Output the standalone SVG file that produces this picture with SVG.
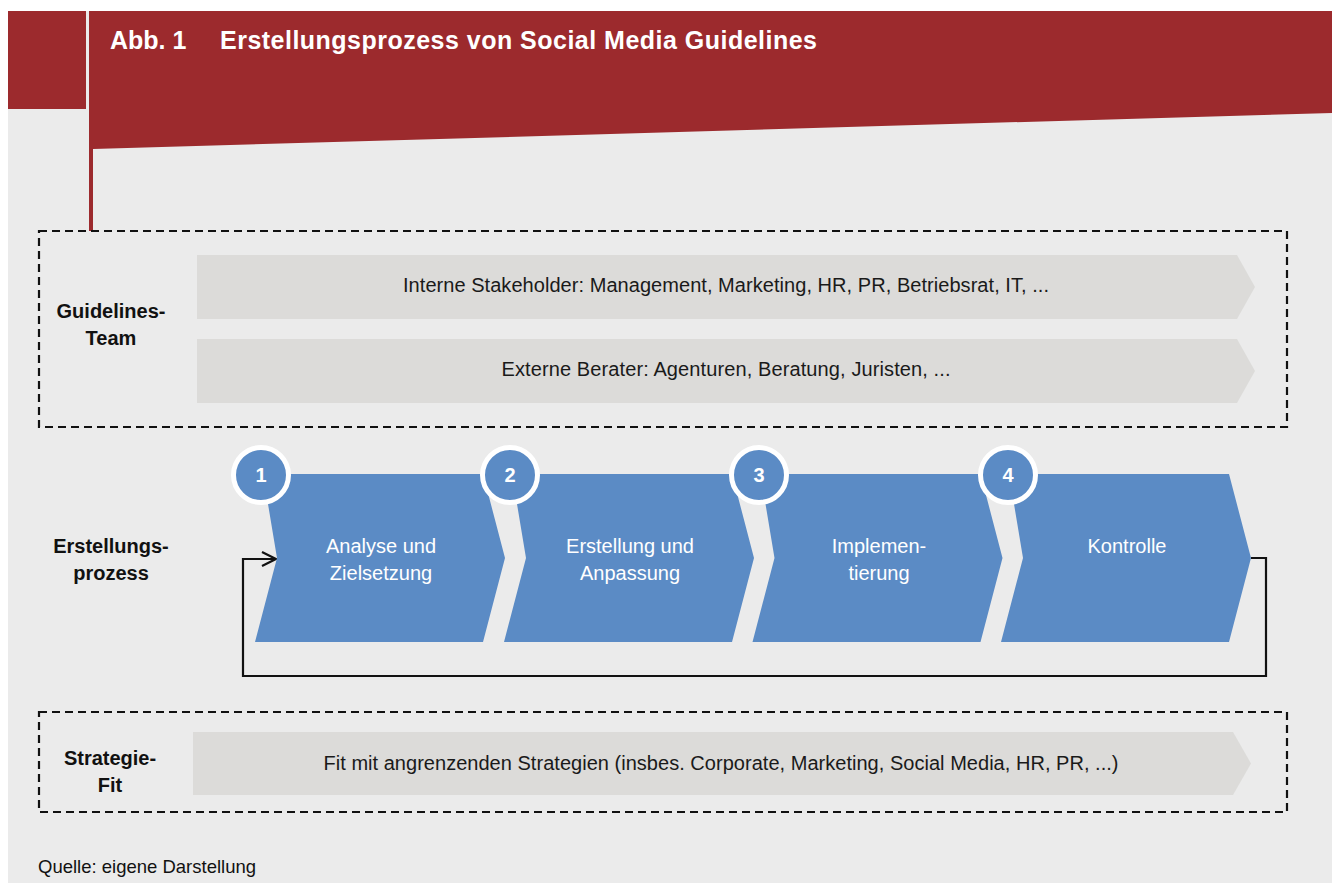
<svg xmlns="http://www.w3.org/2000/svg" width="1332" height="885" viewBox="0 0 1332 885">
  <defs>
    <style>
      .page { fill: #ffffff; }
      .bg { fill: #ebebeb; }
      .red { fill: #9c2a2d; }
      .frame { fill: none; stroke: #111111; stroke-width: 2.2; stroke-dasharray: 8 5; }
      .stripe { fill: #dcdbd9; }
      .step { fill: #5b8bc5; }
      .badge { fill: #5b8bc5; stroke: #ffffff; stroke-width: 5; }
      .title { font-family: "Liberation Sans", Arial, sans-serif; font-weight: bold; font-size: 25px; fill: #ffffff; }
      .label { font-family: "Liberation Sans", Arial, sans-serif; font-weight: bold; font-size: 20px; fill: #111111; text-anchor: middle; }
      .stripe-text { font-family: "Liberation Sans", Arial, sans-serif; font-size: 20px; fill: #1a1a1a; text-anchor: middle; }
      .step-text { font-family: "Liberation Sans", Arial, sans-serif; font-size: 20px; fill: #ffffff; text-anchor: middle; }
      .num { font-family: "Liberation Sans", Arial, sans-serif; font-weight: bold; font-size: 20px; fill: #ffffff; text-anchor: middle; }
      .source { font-family: "Liberation Sans", Arial, sans-serif; font-size: 18.5px; fill: #111111; }
      .loop { fill: none; stroke: #111111; stroke-width: 2.2; }
    </style>
    <marker id="openArrow" markerUnits="userSpaceOnUse" markerWidth="20" markerHeight="20" refX="16" refY="8" orient="auto">
      <path d="M2,1 L16,8 L2,15" fill="none" stroke="#111111" stroke-width="2.2"/>
    </marker>
    <polygon id="chevron" points="263,474 483,474 505,558 483,642 255,642 277,558"/>
  </defs>

  <!-- page and panel background -->
  <rect class="page" x="0" y="0" width="1332" height="885"/>
  <rect class="bg" x="8" y="11" width="1324" height="872"/>

  <!-- header band -->
  <g id="header">
    <rect class="red" x="8" y="11" width="78" height="98"/>
    <polygon class="red" points="89,11 1332,11 1332,113 93,149 93,231 89,231"/>
    <text class="title" x="110" y="49">Abb. 1</text>
    <text class="title" x="220" y="49" textLength="597" lengthAdjust="spacing">Erstellungsprozess von Social Media Guidelines</text>
  </g>

  <!-- Guidelines team -->
  <g id="guidelines-team">
    <rect class="frame" x="39" y="231" width="1248" height="196"/>
    <text class="label" x="111" y="318">Guidelines-</text>
    <text class="label" x="111" y="345">Team</text>
  </g>
  <g id="internal-stakeholders">
    <polygon class="stripe" points="197,255 1237,255 1255,287 1237,319 197,319"/>
    <text class="stripe-text" x="726" y="292" textLength="646" lengthAdjust="spacing">Interne Stakeholder: Management, Marketing, HR, PR, Betriebsrat, IT, ...</text>
  </g>
  <g id="external-advisors">
    <polygon class="stripe" points="197,339 1237,339 1255,371 1237,403 197,403"/>
    <text class="stripe-text" x="726" y="376" textLength="449" lengthAdjust="spacing">Externe Berater: Agenturen, Beratung, Juristen, ...</text>
  </g>

  <!-- creation process -->
  <g id="process-label">
    <text class="label" x="111" y="553">Erstellungs-</text>
    <text class="label" x="111" y="580">prozess</text>
  </g>

  <g id="connectors">
    <path class="loop" d="M1251,558 H1266 V676 H243 V559 H276" marker-end="url(#openArrow)"/>
  </g>

  <g id="step-1">
    <use href="#chevron" class="step"/>
    <circle class="badge" cx="261" cy="475" r="27.5"/>
    <text class="num" x="261" y="482">1</text>
    <text class="step-text" x="381" y="553">Analyse und</text>
    <text class="step-text" x="381" y="580">Zielsetzung</text>
  </g>
  <g id="step-2">
    <use href="#chevron" class="step" transform="translate(249,0)"/>
    <circle class="badge" cx="510" cy="475" r="27.5"/>
    <text class="num" x="510" y="482">2</text>
    <text class="step-text" x="630" y="553">Erstellung und</text>
    <text class="step-text" x="630" y="580">Anpassung</text>
  </g>
  <g id="step-3">
    <use href="#chevron" class="step" transform="translate(497.5,0)"/>
    <circle class="badge" cx="759" cy="475" r="27.5"/>
    <text class="num" x="759" y="482">3</text>
    <text class="step-text" x="879" y="553">Implemen-</text>
    <text class="step-text" x="879" y="580">tierung</text>
  </g>
  <g id="step-4">
    <use href="#chevron" class="step" transform="translate(746,0)"/>
    <circle class="badge" cx="1008" cy="475" r="27.5"/>
    <text class="num" x="1008" y="482">4</text>
    <text class="step-text" x="1127" y="553">Kontrolle</text>
  </g>

  <!-- strategy fit -->
  <g id="strategy-fit">
    <rect class="frame" x="39" y="712" width="1248" height="100"/>
    <text class="label" x="110" y="765">Strategie-</text>
    <text class="label" x="110" y="792">Fit</text>
  </g>
  <g id="adjacent-strategies">
    <polygon class="stripe" points="193,732 1233,732 1251,763.5 1233,795 193,795"/>
    <text class="stripe-text" x="721" y="770" textLength="795" lengthAdjust="spacing">Fit mit angrenzenden Strategien (insbes. Corporate, Marketing, Social Media, HR, PR, ...)</text>
  </g>

  <text class="source" x="38" y="873">Quelle: eigene Darstellung</text>
</svg>
